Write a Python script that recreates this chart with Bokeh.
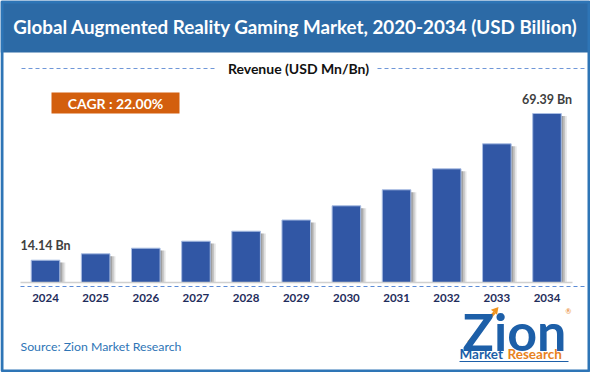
from bokeh.plotting import figure
from bokeh.models import ColumnDataSource, Range1d, Label
from bokeh.transform import dodge
from bokeh.embed import file_html
from bokeh.resources import INLINE
from bokeh.core.properties import value

# ---- data ----
years = ["2024", "2025", "2026", "2027", "2028", "2029", "2030", "2031", "2032", "2033", "2034"]
revenue = [14.14, 16.55, 18.66, 21.30, 25.06, 29.28, 34.63, 40.66, 48.56, 57.98, 69.39]
value_labels = ["14.14 Bn", "", "", "", "", "", "", "", "", "", "69.39 Bn"]
title_text = "Global Augmented Reality Gaming Market, 2020-2034 (USD Billion)"
legend_text = "Revenue (USD Mn/Bn)"
cagr_text = "CAGR : 22.00%"
source_text = "Source: Zion Market Research"

# ---- layout constants ----
W, H = 590, 372
FONT = "Lato"
base_val = 5.74          # value at the drawn baseline
px_per_unit = 2.655
baseline_px = 282
first_px, step_px = 45, 50.15

p = figure(width=W, height=H, output_backend="svg", toolbar_location=None,
           x_range=Range1d(0, W), y_range=Range1d(H, 0),
           x_axis_type=None, y_axis_type=None, min_border=0,
           background_fill_color="white", border_fill_color="white")
p.outline_line_color = None

year_num = [int(y) for y in years]
p.extra_x_ranges = {"yr": Range1d(year_num[0] - first_px / step_px,
                                  year_num[0] + (W - first_px) / step_px)}
p.extra_y_ranges = {"val": Range1d(base_val - (H - baseline_px) / px_per_unit,
                                   base_val + baseline_px / px_per_unit)}

src = ColumnDataSource(dict(year=years, yn=year_num, rev=revenue, vlabel=value_labels,
                            shadow_top=[v - 0.9 for v in revenue]))

# title bar
p.quad(left=0, right=W, top=0, bottom=52, fill_color="#2c6aa6", line_color=None)
p.add_layout(Label(x=W / 2, y=26, text=title_text, text_align="center", text_baseline="middle",
                   text_font=FONT, text_font_style="bold", text_font_size="18.8px",
                   text_color="white"))

# legend row
p.segment(x0=[21, 377], y0=[68, 68], x1=[214, 584], y1=[68, 68],
          line_color="#6f97d8", line_width=1.2, line_dash="4 3")
p.add_layout(Label(x=298, y=68, text=legend_text, text_align="center", text_baseline="middle",
                   text_font=FONT, text_font_style="bold", text_font_size="14px",
                   text_color="#111111"))

# CAGR box
p.quad(left=51, right=179, top=92, bottom=113, fill_color="#d35f0e", line_color=None)
p.add_layout(Label(x=115, y=103, text=cagr_text, text_align="center", text_baseline="middle",
                   text_font=FONT, text_font_style="bold", text_font_size="14px",
                   text_color="white"))

# bar shadows
for off, a in [(0.11, 0.10), (0.075, 0.14), (0.04, 0.18)]:
    p.vbar(x=dodge("yn", off), top="shadow_top", bottom=base_val, width=0.57,
           source=src, fill_color="#000000", fill_alpha=a, line_color=None,
           x_range_name="yr", y_range_name="val")

# bars
p.vbar(x="yn", top="rev", bottom=base_val, width=0.57, source=src,
       fill_color="#3157a5", line_color="#a9bde3", line_width=1,
       x_range_name="yr", y_range_name="val")

# value labels
p.text(x="yn", y="rev", text="vlabel", source=src, x_range_name="yr", y_range_name="val",
       text_align="center", text_baseline="bottom", y_offset=-7,
       text_font=value(FONT), text_font_style="bold", text_font_size="12.5px",
       text_color="#404040")

# baseline + dashed line
p.segment(x0=20, y0=baseline_px, x1=572, y1=baseline_px, line_color="#d0d0d0", line_width=1.5)
p.segment(x0=20, y0=286, x1=584, y1=286, line_color="#5b8bd6", line_width=1.2, line_dash="4 3")

# year labels (category axis labels)
p.text(x="yn", y=297, text="year", source=src, x_range_name="yr",
       text_align="center", text_baseline="middle",
       text_font=value(FONT), text_font_style="bold", text_font_size="11.5px",
       text_color="#1f2d5c")

# source
p.add_layout(Label(x=20, y=346, text=source_text, text_align="left", text_baseline="middle",
                   text_font=FONT, text_font_size="12.3px", text_color="#2e75b6"))

# logo
p.add_layout(Label(x=514, y=330, text="Zion", text_align="center", text_baseline="middle",
                   text_font=FONT, text_font_style="bold", text_font_size="52px",
                   text_color="#1d5fa8"))
p.segment(x0=468, y0=342, x1=494, y1=312, line_color="#f0931e", line_width=3)
p.scatter(x=[495], y=[310], marker="triangle", size=8, angle=-0.7,
          fill_color="#f0931e", line_color=None)
p.add_layout(Label(x=568, y=310, text="\u00ae", text_align="center", text_baseline="middle",
                   text_font=FONT, text_font_size="7px", text_color="#e8821e"))
p.add_layout(Label(x=459, y=353, text="Market", text_align="left", text_baseline="middle",
                   text_font=FONT, text_font_style="bold", text_font_size="13.5px",
                   text_color="#1d5fa8"))
p.add_layout(Label(x=507, y=353, text="Research", text_align="left", text_baseline="middle",
                   text_font=FONT, text_font_style="bold", text_font_size="13.5px",
                   text_color="#e8821e"))
p.segment(x0=459, y0=361, x1=568, y1=361, line_color="#1d5fa8", line_width=1)

# outer border
p.quad(left=1.5, right=W - 1.5, top=1.5, bottom=H - 1.5, fill_color=None,
       line_color="#2e75b6", line_width=3)

open("out.html", "w").write(file_html(p, INLINE))
